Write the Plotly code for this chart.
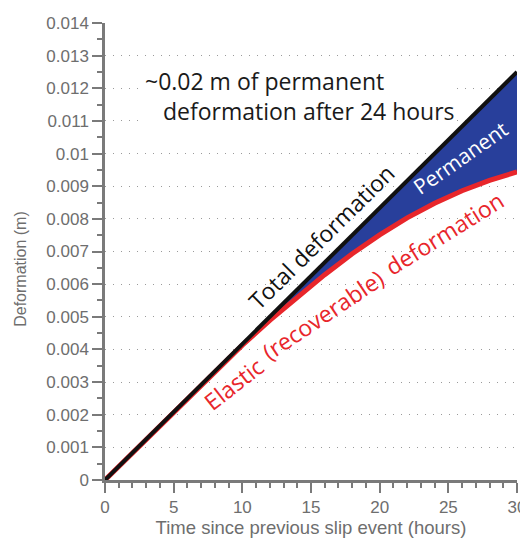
import plotly.graph_objects as go

# ---- data ----
hours = [0, 2, 4, 6, 8, 10, 12, 14, 16, 18, 20, 22, 24, 26, 28, 30]
elastic = [0, 0.00083, 0.00167, 0.0025, 0.00333, 0.00413, 0.00489, 0.00561,
           0.00629, 0.00693, 0.00751, 0.00803, 0.00848, 0.00886, 0.00918, 0.00944]
total_hours = [0, 30]
total = [0, 0.0125]

y_tickvals = [0, 0.001, 0.002, 0.003, 0.004, 0.005, 0.006, 0.007,
              0.008, 0.009, 0.01, 0.011, 0.012, 0.013, 0.014]
y_ticktext = ["0", "0.001", "0.002", "0.003", "0.004", "0.005", "0.006", "0.007",
              "0.008", "0.009", "0.01", "0.011", "0.012", "0.013", "0.014"]
x_tickvals = [0, 5, 10, 15, 20, 25, 30]
x_ticktext = ["0", "5", "10", "15", "20", "25", "30"]

BLUE = "#283f9b"
RED = "#e8262b"
AXC = "#7a7a7a"
LBL = "#6e6e6e"
TXT_FONT = "Open Sans"

fig = go.Figure()

# permanent deformation area (between total and elastic)
fill_x = hours + total_hours[::-1]
fill_y = elastic + total[::-1]
fig.add_trace(go.Scatter(x=fill_x, y=fill_y, mode="lines", fill="toself",
                         fillcolor=BLUE, line=dict(width=0),
                         hoverinfo="skip", showlegend=False))
fig.add_trace(go.Scatter(x=hours, y=elastic, mode="lines",
                         line=dict(color=RED, width=5), showlegend=False))
fig.add_trace(go.Scatter(x=total_hours, y=total, mode="lines",
                         line=dict(color="#111111", width=4), showlegend=False))

axis_common = dict(showline=True, linecolor=AXC, linewidth=2.5, ticks="outside",
                   tickcolor=AXC, tickwidth=2, ticklen=10, zeroline=False,
                   automargin=False,
                   tickfont=dict(family="Liberation Sans", size=17, color=LBL))

fig.update_xaxes(range=[0, 30], tickmode="array", tickvals=x_tickvals,
                 ticktext=x_ticktext, showgrid=False,
                 minor=dict(dtick=1, ticks="outside", ticklen=5, tickcolor=AXC,
                            tickwidth=2, showgrid=False),
                 title=dict(text="Time since previous slip event (hours)",
                            font=dict(family="Liberation Sans", size=18.5, color=LBL),
                            standoff=4),
                 **axis_common)
fig.update_yaxes(range=[0, 0.014], tickmode="array", tickvals=y_tickvals,
                 ticktext=y_ticktext, showgrid=True, gridcolor="#9a9a9a",
                 gridwidth=1, griddash="1px,7px",
                 minor=dict(tick0=0, dtick=0.0005, ticks="outside", ticklen=5,
                            tickcolor=AXC, tickwidth=2, showgrid=False),
                 **axis_common)

NB = "\u00a0"
ann = []
# y-axis title (sits slightly below the axis centre in the reference)
ann.append(dict(xref="paper", yref="paper", x=-0.204, y=0.462,
                text="Deformation (m)", showarrow=False, textangle=-90,
                font=dict(family="Liberation Sans", size=16, color=LBL),
                xanchor="center", yanchor="middle"))
ann.append(dict(x=14.2, y=0.01177,
                text="~0.02 m of permanent<br>" + NB * 3 + "deformation after 24 hours",
                showarrow=False, align="left", borderpad=0,
                font=dict(family=TXT_FONT, size=23, color="#1a1a1a"),
                bgcolor="white", xanchor="center", yanchor="middle"))
ann.append(dict(x=15.74, y=0.00744, text="Total deformation", showarrow=False,
                textangle=-44.7, font=dict(family=TXT_FONT, size=23, color="#111111")))
ann.append(dict(x=25.85, y=0.00986, text="Permanent", showarrow=False,
                textangle=-35, font=dict(family=TXT_FONT, size=21, color="white")))
ann.append(dict(x=9.35, y=0.00294, text="Elastic", showarrow=False,
                textangle=-38, font=dict(family=TXT_FONT, size=23, color=RED)))
ann.append(dict(x=15.84, y=0.00505, text="(recoverable)", showarrow=False,
                textangle=-34, font=dict(family=TXT_FONT, size=23, color=RED)))
ann.append(dict(x=24.72, y=0.00758, text="deformation", showarrow=False,
                textangle=-32, font=dict(family=TXT_FONT, size=23, color=RED)))

# the page adds an 8px body margin, so the figure is 8px smaller than the window
fig.update_layout(width=520, height=530, plot_bgcolor="white", paper_bgcolor="white",
                  margin=dict(l=97, r=11, t=15, b=58), annotations=ann,
                  showlegend=False)

fig.write_html("out.html")
